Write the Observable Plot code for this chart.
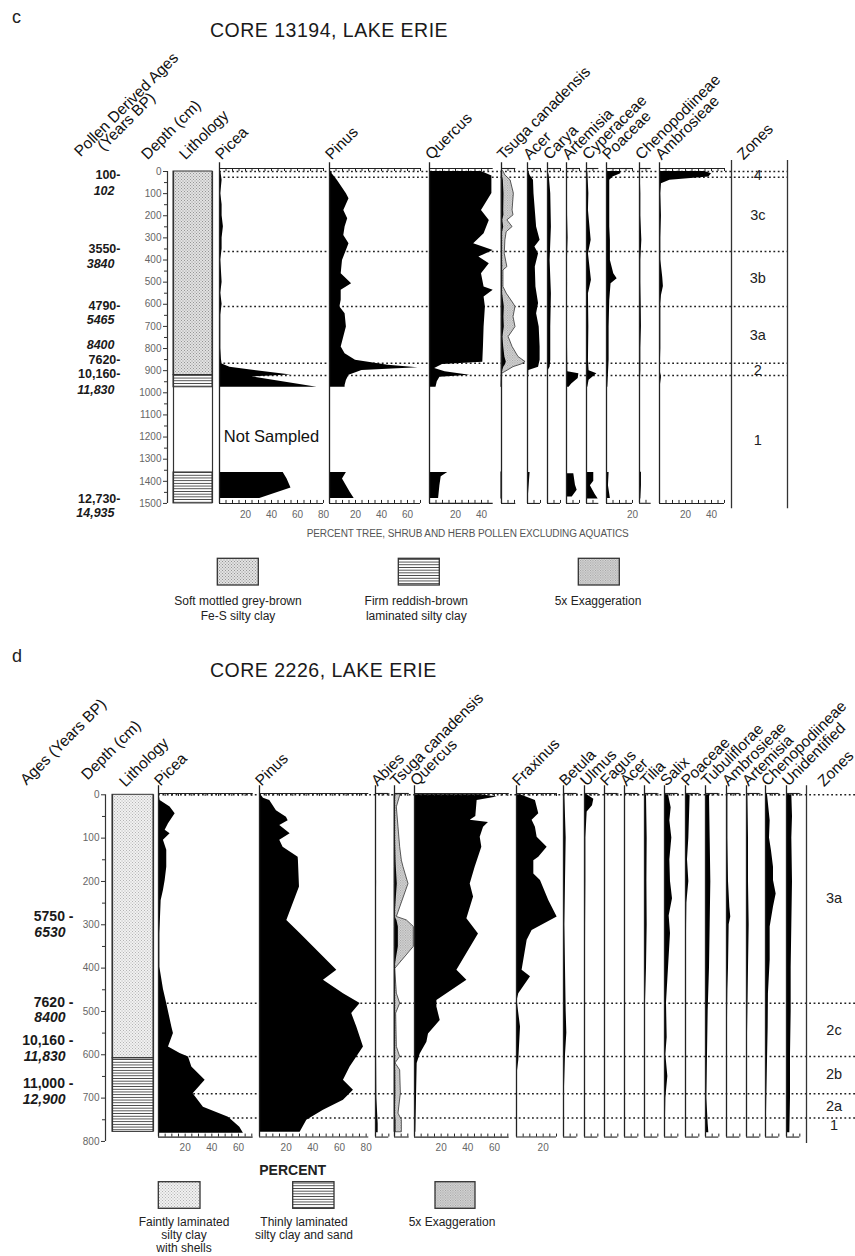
<!DOCTYPE html>
<html>
<head>
<meta charset="utf-8">
<script src="https://cdn.jsdelivr.net/npm/d3@7"></script>
<script src="https://cdn.jsdelivr.net/npm/@observablehq/plot@0.6"></script>
<style>
html,body{margin:0;padding:0;background:#fff;}
#page{position:relative;width:855px;height:1256px;overflow:hidden;background:#fff;font-family:"Liberation Sans",Arial,Helvetica,sans-serif;}
#page svg{position:absolute;overflow:visible;max-width:none;}
</style>
</head>
<body>
<div id="page"></div>
<script>
// ================= DATA: CORE 13194 (panel c) — [depth cm, percent] =================
const c_picea = [[0,1],[40,2],[100,1],[150,2],[200,2],[250,3],[300,2],[350,2],[400,1],[450,1.5],[500,2],[550,1],[600,2],[650,1],[700,1],[750,1],[800,1],[850,1.5],[870,2],[885,8],[920,55],[928,25],[975,75],[1000,null],[1360,49],[1390,52],[1430,55],[1478,31]];
const c_pinus = [[0,2],[10,2],[40,6],[100,13],[123,15],[176,11],[213,14],[251,12],[289,11],[327,15],[357,13],[402,10],[462,9],[507,17],[537,9],[582,9],[612,8],[643,12],[703,13],[748,11],[793,9],[823,12],[853,20],[876,45],[887,68],[899,25],[921,15],[944,13],[967,12],[975,12],[1000,null],[1360,13],[1390,10],[1420,13],[1450,16],[1478,19]];
const c_quercus = [[0,40],[20,48],[100,48],[176,40],[221,46],[281,42],[327,34],[357,49],[387,38],[417,46],[462,40],[522,42],[537,49],[567,42],[612,43],[703,42],[793,41.5],[862,41],[872,10],[890,4],[905,12],[921,31],[930,8],[950,6],[975,5],[1000,null],[1360,14],[1380,9],[1420,8],[1478,7]];
const c_tsuga = [[0,0.3],[18,0.6],[40,1.4],[100,1.9],[176,1.7],[198,1.85],[221,0.9],[251,1.7],[274,0.8],[311,0.6],[372,0.5],[432,0.9],[447,0.3],[522,0.3],[552,0.8],[597,1.85],[612,2.15],[658,1.85],[703,2.15],[748,1.1],[793,1.7],[838,2.6],[861,3.7],[872,3.1],[884,1.85],[906,0.6],[914,0.1],[975,0],[1000,null],[1360,0],[1480,0]];
const c_acer = [[0,1],[18,2],[40,4.6],[100,5],[251,7],[311,9.7],[341,5.7],[372,8.5],[432,6],[522,6.5],[597,8.5],[643,7],[703,9],[793,9.7],[853,9.7],[884,8.5],[899,1],[975,0.5],[1000,null],[1360,2],[1400,1.5],[1480,0.5]];
const c_carya = [[0,0.5],[18,1.3],[100,2.5],[251,3],[402,2],[552,3],[703,2.5],[853,2.5],[884,2],[899,0.5],[975,0.3],[1000,null],[1360,0.7],[1480,0.7]];
const c_artemisia = [[0,0.3],[100,0.7],[200,0.8],[300,1.2],[400,0.7],[500,0.8],[600,0.7],[700,0.7],[800,0.8],[905,1],[914,9.5],[935,9],[960,4],[975,2],[1000,null],[1366,5.6],[1418,6.9],[1440,8.2],[1471,4.4]];
const c_cyperaceae = [[0,1],[100,1.8],[176,1.5],[311,3.6],[372,1.5],[492,3.8],[552,1.5],[703,1.8],[853,1.5],[900,2],[914,8],[944,2],[975,1],[1000,null],[1360,5.6],[1400,5.6],[1420,3],[1460,6.7],[1480,9]];
const c_poaceae = [[0,11],[10,11],[25,5],[40,2.5],[100,2.5],[251,2.5],[311,3],[402,3],[462,5.6],[485,8.2],[507,3.5],[582,2.5],[703,2],[853,2],[914,1.5],[975,1],[1000,null],[1360,2],[1420,1.5],[1478,3]];
const c_chenopod = [[0,0.5],[100,1],[200,1],[311,1.8],[400,1],[500,1],[600,1.3],[700,1.5],[800,1],[900,1],[975,0.5],[1000,null],[1360,1.5],[1420,1.5],[1480,1]];
const c_ambrosieae = [[0,35],[10,40],[25,38],[40,8],[55,1.5],[100,1],[200,1.5],[300,1],[400,1],[480,2.5],[520,3],[560,1.5],[600,1],[700,1],[800,1],[900,0.5],[930,1.5],[975,0.5],[1000,null],[1360,0.7],[1480,0.7]];
const c_zones = [0, 26, 361, 610, 866, 922];
const c_zoneNames = ["4","3c","3b","3a","2","1"];
const c_zoneNameDepths = [18,199,483,741,899,1215];
const c_ages = ["100-","102","3550-","3840","4790-","5465","8400","7620-","10,160-","11,830","12,730-","14,935"];
const c_ageDepths = [18,86,352,418,608,673,786,852,917,986,1478,1543];
const c_litho = [[0,920,"mottled"],[920,975,"laminated"],[1360,1500,"laminated"]];

// ================= DATA: CORE 2226 (panel d) =================
const d_picea = [[0,0.5],[13,1.2],[28,8.7],[44,12.5],[67,7.5],[82,5],[90,8.7],[105,3.7],[128,6.2],[167,6.2],[198,5],[221,3.7],[244,2],[321,1],[398,1],[449,3.7],[482,6.2],[536,10],[551,11.2],[582,7.5],[597,16.2],[605,22.5],[628,25],[659,35],[690,26],[721,33.7],[744,52.5],[767,61],[781,63.7]];
const d_pinus = [[0,1],[8,3],[13,7.7],[37,12.7],[52,20.2],[60,21.5],[71,15.2],[90,23],[105,15.2],[121,17.7],[144,29],[152,29.2],[213,30],[290,20.5],[320,30.5],[382,50.5],[405,58],[428,48],[459,63],[482,75.5],[505,69.2],[536,73],[582,78],[605,73],[628,68],[659,63],[682,70.5],[705,63],[728,48],[751,35.5],[779,30.5]];
const d_abies = [[0,0],[150,0.2],[200,0.8],[300,0.5],[400,0.5],[500,0.5],[600,0.8],[700,1],[760,2],[780,2]];
const d_tsuga = [[0,0.9],[29,0.35],[75,0.6],[121,0.85],[152,1.1],[167,1.35],[206,2.1],[282,0.35],[290,1.85],[305,2.9],[351,2.9],[402,0.1],[459,0.35],[482,0.85],[505,0.25],[582,0.35],[605,0.85],[620,0.15],[636,0.85],[690,0.95],[736,0.6],[751,1.1],[779,1.1]];
const d_quercus = [[0,50],[5,62],[13,47],[50,46],[59,41.8],[64,55.5],[75,51.8],[98,49.3],[121,50.5],[167,45.5],[206,41.8],[236,44.3],[286,39.3],[321,48],[405,31.8],[428,39.3],[475,16.8],[490,16.8],[521,19.3],[552,10.5],[571,9.3],[598,4.3],[620,2],[700,1.5],[779,1]];
const d_fraxinus = [[0,3],[13,14.2],[44,16.7],[59,11.7],[75,14.2],[98,15.5],[121,23],[144,16.7],[152,13],[183,13],[198,18],[244,24.2],[282,30.5],[313,11.7],[336,8],[405,4.2],[420,10.5],[459,1.7],[475,0.5],[536,3],[613,1.7],[644,0.5],[779,0]];
const d_betula = [[0,1],[100,2],[200,1.5],[300,1],[400,1.5],[500,2],[550,2.5],[600,1.5],[700,0.5],[780,0.5]];
const d_ulmus = [[0,2],[10,7],[25,6],[40,2],[100,1],[200,1],[300,0.8],[400,0.7],[500,0.5],[600,0.5],[780,0.3]];
const d_fagus = [[0,0.3],[200,0.5],[400,0.4],[600,0.3],[780,0.2]];
const d_acer = [[0,0.5],[200,0.6],[400,0.5],[600,0.3],[780,0.2]];
const d_tilia = [[0,1.5],[100,2],[200,1.8],[300,2],[400,1.5],[450,1],[500,0.5],[600,0.5],[780,0.3]];
const d_salix = [[0,3],[30,5],[60,4],[100,5.5],[150,4],[200,4.5],[240,6],[280,3.5],[320,4.5],[400,3],[480,1.5],[560,2],[600,1],[650,2.5],[700,1],[780,0.5]];
const d_poaceae = [[0,3.5],[50,3],[100,2.5],[150,1.5],[200,2.5],[250,1],[300,0.8],[400,0.5],[500,0.5],[600,0.5],[780,0.3]];
const d_tubuliflorae = [[0,3],[100,3.5],[200,4],[300,3.5],[400,3],[500,2],[600,1.5],[700,1],[760,2],[780,2.5]];
const d_ambrosieae = [[0,1],[100,1],[200,1.5],[260,2.5],[282,3.2],[300,2],[400,1.5],[450,1],[500,0.8],[600,0.5],[780,0.3]];
const d_artemisia = [[0,1],[100,1.5],[200,1.5],[300,2],[400,1.5],[500,1],[600,0.5],[780,0.3]];
const d_chenopod = [[0,1.5],[30,2.5],[60,3.5],[100,3],[130,4.5],[167,6],[198,6],[229,8],[259,6],[305,3.5],[382,3.5],[459,2.2],[536,2],[690,1],[780,0.5]];
const d_unidentified = [[0,4],[50,4.5],[100,4],[200,4.5],[300,4],[400,3.5],[500,3.5],[600,3],[700,3],[780,2.5]];
const d_zones = [0, 481, 604, 690, 746];
const d_zoneNames = ["3a","2c","2b","2a","1"];
const d_zoneNameDepths = [239,543,646,719,763];
const d_ages = ["5750 -","6530","7620 -","8400","10,160 -","11,830","11,000 -","12,900"];
const d_ageDepths = [282,318,479,514,567,604,666,703];
const d_litho = [[0,608,"faint"],[608,778,"thin"]];

// ================= LAYOUT =================
const FONT = "'Liberation Sans', Arial, Helvetica, sans-serif";
const HEAD = 15.5;
const page = document.getElementById("page");
const plotStyle = {overflow: "visible", background: "transparent", fontFamily: FONT};
const LC = {svgTop: 140, y0: 171, k: 0.2213, dmax: 1500, ppu: 1.3, axisTop: -13.5, axisBot: 1500, lineTop: -40, lineBot: 1500, headDy: -11, tickLen: 3};
const LD = {svgTop: 700, y0: 794.3, k: 0.4333, dmax: 800, ppu: 1.333, axisTop: -3, axisBot: 790, lineTop: -21, lineBot: 790, headDy: -8, tickLen: 3};

// patterns
const defs = d3.select(page).append("svg").attr("width", 0).attr("height", 0).style("left", "0px").style("top", "0px").append("defs");
function dotPattern(id, bg, dot, s) {
  const p = defs.append("pattern").attr("id", id).attr("patternUnits", "userSpaceOnUse").attr("width", s).attr("height", s);
  p.append("rect").attr("width", s).attr("height", s).attr("fill", bg);
  p.append("rect").attr("width", 1).attr("height", 1).attr("fill", dot);
  p.append("rect").attr("x", s / 2).attr("y", s / 2).attr("width", 1).attr("height", 1).attr("fill", dot);
}
dotPattern("pat-mottled", "#e2e2e2", "#959595", 3);
dotPattern("pat-faint", "#f1f1f1", "#b4b4b4", 3);
dotPattern("pat-exag", "#d8d8d8", "#9c9c9c", 2.5);
const lam = defs.append("pattern").attr("id", "pat-lam").attr("patternUnits", "userSpaceOnUse").attr("width", 6).attr("height", 2.7);
lam.append("rect").attr("width", 6).attr("height", 2.7).attr("fill", "#fff");
lam.append("rect").attr("width", 6).attr("height", 0.9).attr("fill", "#444");

function put(svg, left, top) { svg.style.left = left + "px"; svg.style.top = top + "px"; page.appendChild(svg); }
function header(text, dx, dy, size = HEAD) {
  return Plot.text([text], {text: d => d, frameAnchor: "top-left", dx, dy, rotate: -45, textAnchor: "start", lineAnchor: "bottom", fontSize: size, fill: "#111"});
}
function frameDims(L, extra) {
  const mt = L.y0 - L.svgTop, h = L.dmax * L.k, height = Math.ceil(mt + h + extra);
  return {mt, h, height, mb: height - mt - h};
}

function zoneLines(L, zones, left, right) {
  const f = frameDims(L, 20);
  const svg = Plot.plot({width: 855, height: f.height, marginLeft: left, marginRight: 855 - right, marginTop: f.mt, marginBottom: f.mb,
    y: {domain: [0, L.dmax], reverse: true, axis: null}, style: plotStyle,
    marks: [Plot.ruleY(zones, {stroke: "#222", strokeWidth: 1.5, strokeDasharray: "1.8,2.6"})]});
  put(svg, 0, L.svgTop);
}

function column(L, name, data, x0, vmax, exag, extra = []) {
  const ml = 14, mr = 14, w = vmax * L.ppu, f = frameDims(L, 40);
  const ticks = d3.range(0, vmax + 1e-9, 5);
  const labels = ticks.filter(t => t > 0 && t % 20 === 0);
  const rows = data.map(([depth, v]) => ({depth, v: v == null ? NaN : v}));
  const tl = L.tickLen / L.k;
  const marks = [];
  if (exag) marks.push(Plot.areaX(rows, {y: "depth", x1: 0, x2: d => d.v * 5, fill: "url(#pat-exag)", stroke: "#333", strokeWidth: 0.8}));
  marks.push(Plot.areaX(rows, {y: "depth", x1: 0, x2: "v", fill: "#000"}));
  marks.push(Plot.ruleX([0], {y1: L.lineTop, y2: L.lineBot, stroke: "#222", strokeWidth: 1.3}));
  marks.push(Plot.ruleY([L.axisTop], {x1: 0, x2: vmax, stroke: "#222", strokeWidth: 1.1}));
  marks.push(Plot.ruleX(ticks, {x: d => d, y1: L.axisTop, y2: L.axisTop + tl, stroke: "#222"}));
  marks.push(Plot.ruleY([L.axisBot], {x1: 0, x2: vmax, stroke: "#222", strokeWidth: 1.1}));
  marks.push(Plot.ruleX(ticks, {x: d => d, y1: L.axisBot - tl, y2: L.axisBot, stroke: "#222"}));
  marks.push(Plot.text(labels, {x: d => d, y: L.axisBot, dy: 11, text: d => String(d), fontSize: 10, fill: "#666"}));
  marks.push(header(name, 2, L.headDy));
  marks.push(...extra);
  const svg = Plot.plot({width: ml + w + mr, height: f.height, marginLeft: ml, marginRight: mr, marginTop: f.mt, marginBottom: f.mb,
    x: {domain: [0, vmax], axis: null}, y: {domain: [0, L.dmax], reverse: true, axis: null}, style: plotStyle, marks});
  put(svg, x0 - ml, L.svgTop);
}

function depthAxis(L, xAxis, headDx, headDy) {
  const ml = 40, f = frameDims(L, 30);
  const svg = Plot.plot({width: ml + 10, height: f.height, marginLeft: ml, marginRight: 0, marginTop: f.mt, marginBottom: f.mb,
    x: {domain: [0, 1], axis: null}, y: {domain: [0, L.dmax], reverse: true}, style: plotStyle,
    marks: [
      Plot.ruleX([0], {y1: 0, y2: L.dmax, stroke: "#333", strokeWidth: 1.2}),
      Plot.axisY({anchor: "left", ticks: d3.range(0, L.dmax + 1, 100), tickSize: 4, tickPadding: 2, tickFormat: d => String(d), fontSize: 10, fill: "#666", stroke: "#333", label: null}),
      Plot.axisY({anchor: "left", ticks: d3.range(50, L.dmax, 100), tickSize: 3, tickFormat: () => "", stroke: "#333", label: null}),
      header("Depth (cm)", headDx, headDy)
    ]});
  put(svg, xAxis - ml, L.svgTop);
}

function lithology(L, rows, x0, wpx, stip, sideBot, headDx, headDy) {
  const ml = 10, mr = 10, f = frameDims(L, 30);
  const stipRows = rows.filter(r => r[2] === "mottled" || r[2] === "faint");
  const lamRows = rows.filter(r => r[2] === "laminated" || r[2] === "thin");
  const svg = Plot.plot({width: ml + wpx + mr, height: f.height, marginLeft: ml, marginRight: mr, marginTop: f.mt, marginBottom: f.mb,
    x: {domain: [0, 1], axis: null}, y: {domain: [0, L.dmax], reverse: true, axis: null}, style: plotStyle,
    marks: [
      Plot.rect(stipRows, {x1: 0, x2: 1, y1: d => d[0], y2: d => d[1], fill: `url(#${stip})`}),
      Plot.rect(lamRows, {x1: 0, x2: 1, y1: d => d[0], y2: d => d[1], fill: "url(#pat-lam)"}),
      Plot.rect(rows, {x1: 0, x2: 1, y1: d => d[0], y2: d => d[1], fill: "none", stroke: "#333", strokeWidth: 1}),
      Plot.ruleX([0, 1], {y1: 0, y2: sideBot, stroke: "#333", strokeWidth: 1.2}),
      header("Lithology", headDx, headDy)
    ]});
  put(svg, x0 - ml, L.svgTop);
}

function ages(L, labels, depths, rightPx, otherDx, fontSize, heads) {
  const rows = labels.map((t, i) => ({t, depth: depths[i], hy: /-$/.test(t)}));
  const f = frameDims(L, 60);
  const svg = Plot.plot({width: rightPx + 10, height: f.height, marginLeft: 0, marginRight: 10, marginTop: f.mt, marginBottom: f.mb,
    y: {domain: [0, L.dmax], reverse: true, axis: null}, style: plotStyle,
    marks: [
      Plot.text(rows.filter(r => r.hy), {y: "depth", text: "t", frameAnchor: "right", textAnchor: "end", fontWeight: "bold", fontSize, fill: "#1a1a1a"}),
      Plot.text(rows.filter(r => !r.hy), {y: "depth", text: "t", frameAnchor: "right", textAnchor: "end", dx: otherDx, fontWeight: "bold", fontStyle: "italic", fontSize, fill: "#1a1a1a"}),
      ...heads
    ]});
  put(svg, 0, L.svgTop);
}

function zonesCol(L, x0, wpx, names, depths, labelX, rules, rTop, rBot, headDx, headDy) {
  const ml = 5, mr = 5, f = frameDims(L, 40);
  const rows = names.map((n, i) => ({n, depth: depths[i]}));
  const svg = Plot.plot({width: ml + wpx + mr, height: f.height, marginLeft: ml, marginRight: mr, marginTop: f.mt, marginBottom: f.mb,
    x: {domain: [0, 1], axis: null}, y: {domain: [0, L.dmax], reverse: true, axis: null}, style: plotStyle,
    marks: [
      Plot.ruleX(rules, {x: d => d, y1: rTop, y2: rBot, stroke: "#333", strokeWidth: 1.3}),
      Plot.text(rows, {x: labelX, y: "depth", text: "n", fontSize: 14.5, fill: "#222"}),
      header("Zones", headDx, headDy)
    ]});
  put(svg, x0 - ml, L.svgTop);
}

// ================= PANEL C =================
zoneLines(LC, c_zones, 219, 787);
ages(LC, c_ages, c_ageDepths, 120, -6, 12.5, [header("Pollen Derived Ages", 80, -14), header("(Years BP)", 103, -20)]);
depthAxis(LC, 166.7, -20, -11);
lithology(LC, c_litho, 173.3, 39, "pat-mottled", 1500, 12, -11);
column(LC, "Picea", c_picea, 219, 80, false, [Plot.text(["Not Sampled"], {x: 40, y: 1200, text: d => d, fontSize: 16.5, fill: "#111"})]);
column(LC, "Pinus", c_pinus, 329.3, 70);
column(LC, "Quercus", c_quercus, 429, 49);
column(LC, "Tsuga canadensis", c_tsuga, 501, 11, true);
column(LC, "Acer", c_acer, 527.3, 10);
column(LC, "Carya", c_carya, 546.7, 10);
column(LC, "Artemisia", c_artemisia, 566, 10);
column(LC, "Cyperaceae", c_cyperaceae, 586, 9.5);
column(LC, "Poaceae", c_poaceae, 605.7, 20);
column(LC, "Chenopodiineae", c_chenopod, 639.3, 9);
column(LC, "Ambrosieae", c_ambrosieae, 659.3, 50);
zonesCol(LC, 730.7, 56, c_zoneNames, c_zoneNameDepths, 0.47, [0, 1], -50, 1524, 12, -11);

// ================= PANEL D =================
zoneLines(LD, d_zones, 158, 855);
ages(LD, d_ages, d_ageDepths, 73, -8, 14, [header("Ages (Years BP)", 26, -9)]);
depthAxis(LD, 105, -18, -14);
lithology(LD, d_litho, 111.7, 41, "pat-faint", 778, 13, -7);
column(LD, "Picea", d_picea, 158.3, 71);
column(LD, "Pinus", d_pinus, 259.3, 82);
column(LD, "Abies", d_abies, 375, 10);
column(LD, "Tsuga canadensis", d_tsuga, 394.3, 11, true);
column(LD, "Quercus", d_quercus, 414.3, 71);
column(LD, "Fraxinus", d_fraxinus, 516, 30);
column(LD, "Betula", d_betula, 563.3, 10);
column(LD, "Ulmus", d_ulmus, 583.7, 10);
column(LD, "Fagus", d_fagus, 604, 10);
column(LD, "Acer", d_acer, 624.3, 10);
column(LD, "Tilia", d_tilia, 644, 10);
column(LD, "Salix", d_salix, 664, 10);
column(LD, "Poaceae", d_poaceae, 685, 10);
column(LD, "Tubuliflorae", d_tubuliflorae, 705.3, 10);
column(LD, "Ambrosieae", d_ambrosieae, 725.7, 10);
column(LD, "Artemisia", d_artemisia, 745.7, 10);
column(LD, "Chenopodiineae", d_chenopod, 765.3, 10);
column(LD, "Unidentified", d_unidentified, 785.7, 10);
zonesCol(LD, 805.7, 50, d_zoneNames, d_zoneNameDepths, 0.55, [0], -21, 805, 17.6, -7.6);

// ================= TITLES, CAPTIONS, LEGENDS =================
const ov = d3.select(page).append("svg").attr("width", 855).attr("height", 1256).style("left", "0px").style("top", "0px").style("font-family", FONT);
function txt(x, y, s, o = {}) {
  return ov.append("text").attr("x", x).attr("y", y).text(s)
    .attr("font-size", o.size || 12).attr("fill", o.fill || "#222")
    .attr("text-anchor", o.anchor || "start").attr("font-weight", o.weight || "normal")
    .attr("letter-spacing", o.ls || 0);
}
function box(x, y, w, h, pat) {
  ov.append("rect").attr("x", x).attr("y", y).attr("width", w).attr("height", h).attr("fill", `url(#${pat})`).attr("stroke", "#333").attr("stroke-width", 1.3);
}
txt(12, 23, "c", {size: 18});
txt(210, 36.5, "CORE 13194, LAKE ERIE", {size: 19.5, ls: 0.5, fill: "#1a1a1a"});
txt(306.7, 536.5, "PERCENT TREE, SHRUB AND HERB POLLEN EXCLUDING AQUATICS", {size: 10, fill: "#555", ls: -0.1});
box(217.3, 558.3, 41, 26.7, "pat-mottled");
box(398.3, 558.3, 41, 26.7, "pat-lam");
box(578.3, 558.3, 41, 26.7, "pat-exag");
txt(238, 605, "Soft mottled grey-brown", {anchor: "middle"});
txt(238, 619.5, "Fe-S silty clay", {anchor: "middle"});
txt(416.3, 605, "Firm reddish-brown", {anchor: "middle"});
txt(416.3, 619.5, "laminated silty clay", {anchor: "middle"});
txt(598, 605, "5x Exaggeration", {anchor: "middle"});

txt(12, 662, "d", {size: 18});
txt(210, 676.5, "CORE 2226, LAKE ERIE", {size: 19.5, ls: 0.5, fill: "#1a1a1a"});
txt(292.7, 1174.5, "PERCENT", {size: 14, weight: "bold", anchor: "middle"});
box(158.3, 1181.7, 41.7, 26.6, "pat-faint");
box(292.7, 1181.7, 41.3, 26.6, "pat-lam");
box(435, 1181.7, 40, 26.6, "pat-exag");
txt(184, 1226, "Faintly laminated", {anchor: "middle"});
txt(184, 1239, "silty clay", {anchor: "middle"});
txt(184, 1252, "with shells", {anchor: "middle"});
txt(304, 1226, "Thinly laminated", {anchor: "middle"});
txt(304, 1239, "silty clay and sand", {anchor: "middle"});
txt(452, 1226, "5x Exaggeration", {anchor: "middle"});
</script>
</body>
</html>
